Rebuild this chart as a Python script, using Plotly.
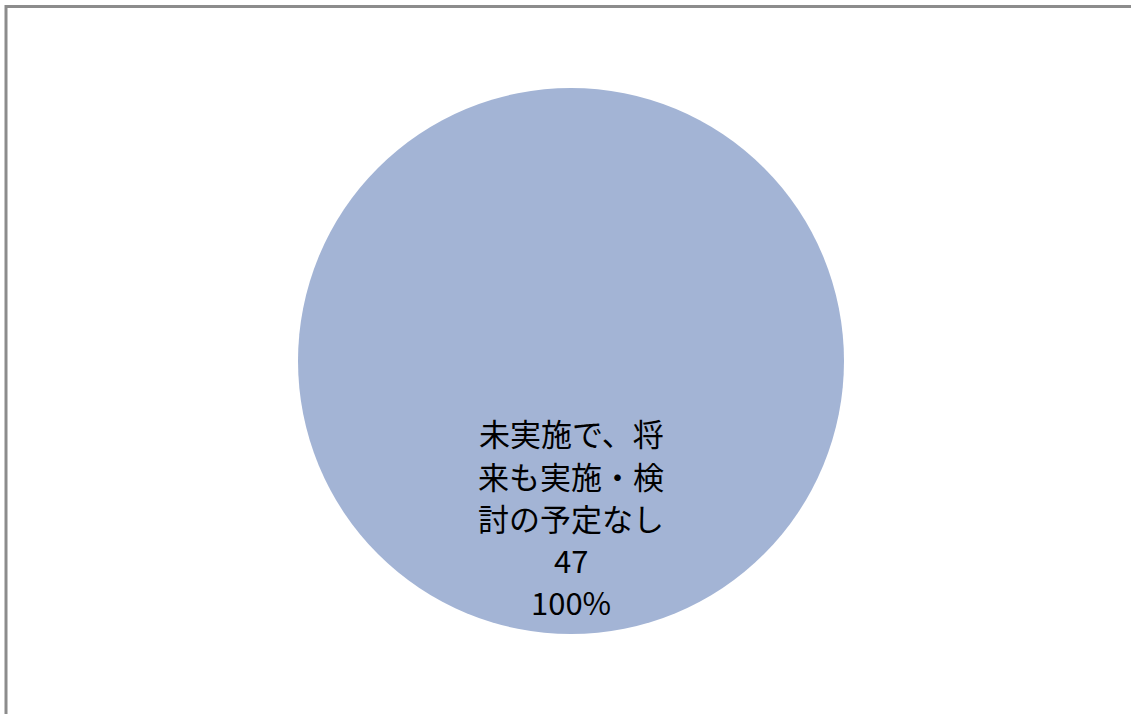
import plotly.graph_objects as go

# Survey response categories and counts
categories = ["未実施で、将来も実施・検討の予定なし"]
counts = [47]

W, H = 1131, 714
slice_color = "#A3B4D5"

total = sum(counts)


def wrap(text, width=6):
    return [text[i:i + width] for i in range(0, len(text), width)]


fig = go.Figure(
    go.Pie(
        labels=categories,
        values=counts,
        sort=False,
        direction="clockwise",
        textinfo="none",
        hoverinfo="label+value+percent",
        marker=dict(colors=[slice_color], line=dict(width=0)),
        showlegend=False,
        domain=dict(x=[298 / W, 844 / W], y=[(H - 634) / H, (H - 88) / H]),
    )
)

# Data label for the single slice: category (wrapped), count and share,
# one annotation per line so the line pitch can be set exactly
cat, n = categories[0], counts[0]
pct = round(100 * n / total)
lines = wrap(cat) + [str(n), f"{pct}%"]

first_y, pitch = 433, 42
for i, line in enumerate(lines):
    fig.add_annotation(
        x=571 / W,
        y=1 - (first_y + i * pitch) / H,
        xref="paper",
        yref="paper",
        text=line,
        showarrow=False,
        xanchor="center",
        yanchor="middle",
        align="center",
        font=dict(family="Noto Sans CJK JP", size=31, color="#000000"),
    )

# Chart-area frame
fig.add_shape(
    type="rect",
    xref="paper",
    yref="paper",
    x0=6 / W,
    x1=1.02,
    y0=-0.02,
    y1=1 - 6.5 / H,
    line=dict(color="#8C8C8C", width=3),
    fillcolor="rgba(0,0,0,0)",
)

fig.update_layout(
    width=W,
    height=H,
    margin=dict(l=0, r=0, t=0, b=0),
    paper_bgcolor="#FFFFFF",
    plot_bgcolor="#FFFFFF",
)

fig.write_html("out.html")
